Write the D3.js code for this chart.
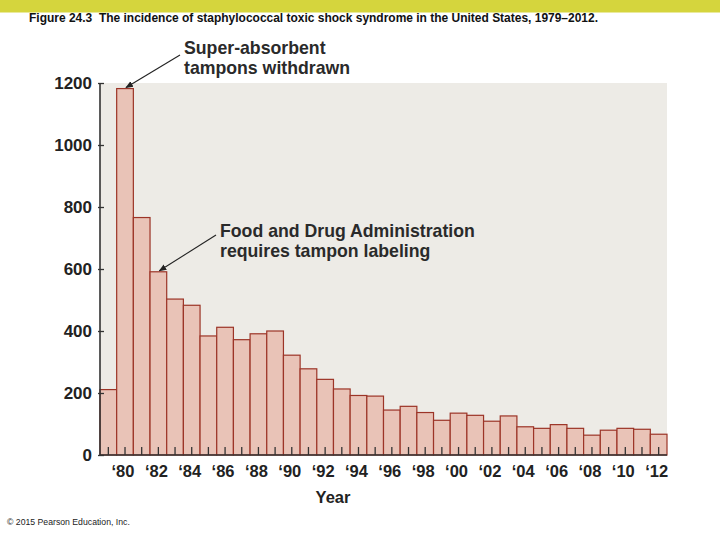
<!DOCTYPE html>
<html><head><meta charset="utf-8">
<script src="https://cdn.jsdelivr.net/npm/d3@7"></script>
<style>body{margin:0;background:#fff}svg{display:block}</style>
</head><body>
<script>
const years = d3.range(1979, 2013);
const cases = [211, 1182, 766, 591, 503, 483, 384, 412, 372, 391, 400, 322, 278, 244, 213, 192, 190,
  145, 157, 137, 112, 135, 128, 109, 126, 91, 86, 98, 86, 64, 80, 86, 83, 67];
const yTicks = [0, 200, 400, 600, 800, 1000, 1200];
const xTickYears = years.filter(y => y % 2 === 0);
const titleText = "Figure 24.3  The incidence of staphylococcal toxic shock syndrome in the United States, 1979\u20132012.";
const xAxisTitle = "Year";
const notes = [
  {year: 1980, lines: ["Super-absorbent", "tampons withdrawn"]},
  {year: 1982, lines: ["Food and Drug Administration", "requires tampon labeling"]}
];
const credit = "\u00a9 2015 Pearson Education, Inc.";

(function () {
const W = 720, H = 540;
const svg = d3.select("body").append("svg").attr("width", W).attr("height", H);
const font = "'Liberation Sans', Arial, Helvetica, sans-serif";

svg.append("rect").attr("x", 0).attr("y", 0).attr("width", W).attr("height", 12.5).attr("fill", "#d5d53d");
svg.append("text").attr("x", 29).attr("y", 22).text(titleText)
  .style("white-space", "pre")
  .attr("font-family", "'Liberation Sans Narrow', 'Arial Narrow', 'Liberation Sans', sans-serif").attr("font-weight", "bold")
  .attr("font-size", 12.5).attr("fill", "#111")
  .attr("textLength", 569).attr("lengthAdjust", "spacingAndGlyphs");

const pL = 100, pR = 667, pT = 83, pB = 455;
const x = d3.scaleBand().domain(years).range([pL, pR]).padding(0);
const y = d3.scaleLinear().domain([0, 1200]).range([pB, pT]);

svg.append("rect").attr("x", pL).attr("y", pT).attr("width", pR - pL).attr("height", pB - pT).attr("fill", "#edebe6");

svg.append("g").selectAll("rect").data(years).join("rect")
  .attr("x", d => x(d)).attr("width", x.bandwidth())
  .attr("y", (d, i) => y(cases[i])).attr("height", (d, i) => y(0) - y(cases[i]))
  .attr("fill", "#e9c3b7").attr("stroke", "#9c3427").attr("stroke-width", 1.2);

const gx = svg.append("g").attr("transform", `translate(0,${pB})`)
  .call(d3.axisBottom(x).tickValues(years).tickSize(-8).tickFormat(""));
gx.select(".domain").remove();
gx.selectAll("line").attr("stroke", "#333").attr("stroke-width", 1.3);
svg.append("line").attr("x1", pL).attr("x2", pR).attr("y1", pB).attr("y2", pB).attr("stroke", "#333").attr("stroke-width", 1.6);

svg.append("g").selectAll("text").data(xTickYears).join("text")
  .attr("x", d => x(d) + x.bandwidth() / 2 - 2).attr("y", pB + 22)
  .attr("text-anchor", "middle").attr("font-family", font).attr("font-weight", "bold")
  .attr("font-size", 16.5).attr("fill", "#222")
  .text(d => "\u2018" + String(d).slice(2));

const gy = svg.append("g").attr("transform", `translate(${pL},0)`)
  .call(d3.axisLeft(y).tickValues(yTicks).tickSize(4).tickFormat(""));
gy.select(".domain").remove();
gy.selectAll("line").attr("stroke", "#333").attr("stroke-width", 1.3).attr("x2", 4).attr("x1", -2);
svg.append("line").attr("x1", pL).attr("x2", pL).attr("y1", pT).attr("y2", pB).attr("stroke", "#333").attr("stroke-width", 1.6);
svg.append("g").selectAll("text").data(yTicks).join("text")
  .attr("x", 92).attr("y", d => y(d) + 6).attr("text-anchor", "end")
  .attr("font-family", font).attr("font-weight", "bold").attr("font-size", 17).attr("fill", "#222")
  .text(d => d);

svg.append("text").attr("x", 333).attr("y", 503).attr("text-anchor", "middle")
  .attr("font-family", font).attr("font-weight", "bold").attr("font-size", 16.5).attr("fill", "#222").text(xAxisTitle);

const defs = svg.append("defs");
defs.append("marker").attr("id", "ah").attr("viewBox", "0 0 10 10").attr("refX", 9).attr("refY", 5)
  .attr("markerWidth", 7).attr("markerHeight", 7).attr("orient", "auto")
  .append("path").attr("d", "M0,1 L10,5 L0,9 z").attr("fill", "#222");

const notePos = [{tx: 184, ty: 54, sx: 180, sy: 55}, {tx: 220, ty: 237, sx: 216, sy: 235}];
notes.forEach((n, k) => {
  const i = years.indexOf(n.year);
  const p = notePos[k];
  svg.append("line").attr("x1", p.sx).attr("y1", p.sy)
    .attr("x2", x(n.year) + x.bandwidth() / 2 + 1).attr("y2", y(cases[i]) - 1)
    .attr("stroke", "#222").attr("stroke-width", 1.1).attr("marker-end", "url(#ah)");
  const t = svg.append("text").attr("font-family", font).attr("font-weight", "bold")
    .attr("font-size", 17.7).attr("fill", "#2a2a2a");
  n.lines.forEach((l, j) => t.append("tspan").attr("x", p.tx).attr("y", p.ty + j * 20).text(l));
});

svg.append("text").attr("x", 7).attr("y", 525).attr("font-family", font).attr("font-size", 8.7)
  .attr("fill", "#222").text(credit);
})();
</script>
</body></html>
